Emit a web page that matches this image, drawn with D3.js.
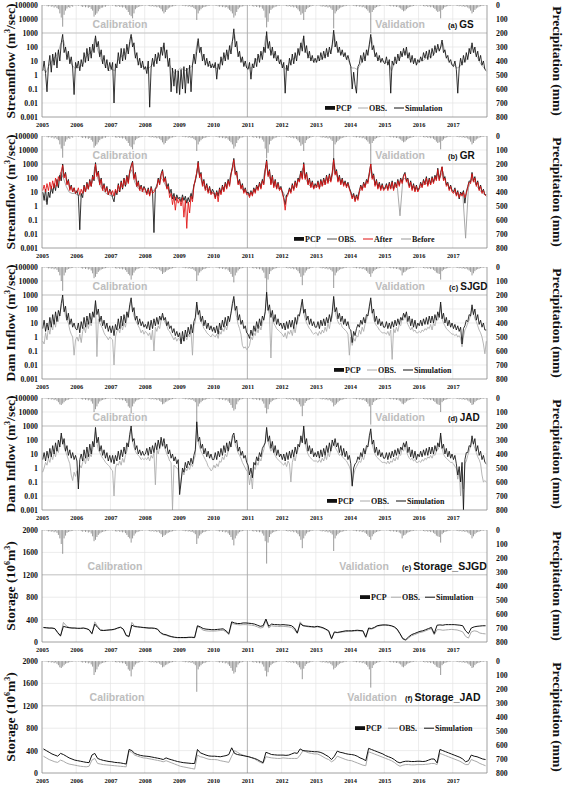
<!DOCTYPE html>
<html>
<head>
<meta charset="utf-8">
<script src="https://cdn.jsdelivr.net/npm/d3@7"></script>
<style>
  body { margin: 0; background: #fff; }
  svg { display: block; }
  .ax text { font-family: "Liberation Serif", "Times New Roman", serif; font-weight: bold; fill: #111; }
  .ax path { display: none; }
</style>
</head>
<body>
<svg id="chart" width="574" height="789"></svg>
<script>
// ---- tick labels ----
const years = d3.range(2005, 2018);
const flowTicks = [0.001, 0.01, 0.1, 1, 10, 100, 1000, 10000, 100000];
const storageTicks = [0, 400, 800, 1200, 1600, 2000];
const pcpTicks = [0, 100, 200, 300, 400, 500, 600, 700, 800];

// ---- precipitation (mm), half-monthly maxima, one row per year 2005..2017 ----
const pcpGS = [
  [3,5,2,8,10,6,12,9,18,10,22,30,60,90,155,70,40,25,15,20,8,12,4,3],
  [4,6,3,9,14,8,16,10,20,14,28,40,83,70,60,45,30,20,18,10,12,6,5,3],
  [3,5,4,10,12,7,14,11,18,12,24,35,50,70,80,95,60,30,20,14,10,8,5,4],
  [4,3,6,8,10,7,12,9,16,11,20,30,45,60,50,35,25,18,12,10,8,6,4,3],
  [3,4,5,7,9,6,12,8,15,12,22,30,107,60,40,30,20,15,12,9,7,5,4,3],
  [4,5,6,9,12,8,15,10,18,14,25,35,45,60,90,75,50,30,18,12,10,8,5,4],
  [3,5,4,8,11,7,14,9,18,12,26,40,90,160,120,60,35,25,18,12,10,7,5,4],
  [3,4,5,8,10,7,13,9,17,11,22,32,45,70,60,107,50,30,20,14,10,7,5,3],
  [4,5,4,9,11,8,14,10,18,12,24,35,167,60,45,35,25,18,14,10,8,6,5,4],
  [3,4,6,8,10,7,12,9,16,11,22,30,40,55,200,50,35,22,15,10,8,6,4,3],
  [3,4,5,7,9,6,11,8,14,10,18,25,35,45,40,30,22,15,12,9,7,5,4,3],
  [4,5,4,8,10,7,13,9,16,11,20,28,40,50,45,95,35,25,15,10,8,6,5,4],
  [3,4,5,7,9,6,11,8,14,10,18,25,40,60,50,35,25,18,12,9,7,5,4,3]
];
const pcpSJGD = [
  [3,5,2,6,10,8,12,9,16,10,20,35,60,100,170,60,40,20,14,10,8,6,4,3],
  [3,4,3,8,12,7,14,9,18,12,25,45,80,70,50,35,25,18,14,10,8,6,4,3],
  [3,4,4,9,11,6,13,10,17,11,22,35,50,60,90,60,40,25,16,12,9,6,5,3],
  [3,3,5,8,10,6,12,8,15,10,20,30,50,40,35,25,20,15,12,9,7,5,4,3],
  [3,4,4,7,9,6,11,8,14,11,20,30,100,60,40,30,20,15,12,8,6,5,4,3],
  [3,4,5,8,11,7,14,9,17,12,24,35,50,70,110,60,40,25,15,10,8,6,4,3],
  [3,4,4,8,10,7,13,9,16,11,25,40,80,240,90,50,30,20,15,10,8,6,4,3],
  [3,4,5,7,10,6,12,8,16,10,20,30,45,70,130,60,40,25,15,12,8,6,4,3],
  [3,4,4,8,10,7,13,9,17,11,22,32,150,60,40,30,20,15,12,9,7,5,4,3],
  [3,4,5,7,9,6,11,8,15,10,20,28,40,50,70,45,30,20,14,10,8,6,4,3],
  [3,4,4,7,9,6,11,8,14,10,18,25,60,40,35,25,18,14,10,8,6,5,4,3],
  [3,4,4,7,10,6,12,8,15,10,20,28,40,45,50,90,30,20,14,10,8,6,4,3],
  [3,4,5,7,9,6,11,8,14,10,18,25,35,60,45,30,20,15,12,8,6,5,4,3]
];
const pcpJAD = [
  [3,4,3,6,9,6,11,8,15,10,20,30,45,50,40,30,20,15,12,8,6,5,4,3],
  [3,4,3,8,11,7,13,9,17,11,24,40,100,80,60,40,25,18,14,10,8,6,4,3],
  [3,4,4,8,10,6,12,9,16,11,22,35,60,70,110,60,40,25,16,12,9,6,5,3],
  [3,3,5,7,10,6,11,8,15,10,20,28,45,40,30,25,18,14,10,8,6,5,4,3],
  [3,4,4,7,9,6,11,8,14,10,20,30,220,60,40,30,20,15,12,8,6,5,4,3],
  [3,4,5,8,11,7,13,9,17,12,24,35,50,70,90,80,45,25,15,10,8,6,4,3],
  [3,4,4,8,10,7,13,9,16,11,24,40,70,110,80,45,30,20,15,10,8,6,4,3],
  [3,4,5,7,10,6,12,8,15,10,20,30,45,60,130,55,35,22,15,11,8,6,4,3],
  [3,4,4,8,10,7,12,9,16,11,22,32,60,50,40,30,20,15,12,9,7,5,4,3],
  [3,4,5,7,9,6,11,8,15,10,20,28,40,60,190,50,30,20,14,10,8,6,4,3],
  [3,4,4,7,9,6,11,8,14,10,18,25,40,45,35,25,18,14,10,8,6,5,4,3],
  [3,4,4,7,10,6,12,8,15,10,20,28,40,45,50,100,30,20,14,10,8,6,4,3],
  [3,4,5,7,9,6,11,8,14,10,18,25,35,50,45,30,20,15,12,8,6,5,4,3]
];

// ---- (a) GS streamflow, log10(m3/s), half-monthly ----
const gsSim = [
  [0.3,1.0,0.1,-1.2,0.6,1.4,0.2,1.5,0.7,1.6,0.5,1.8,1.0,2.3,2.9,1.6,2.0,1.1,1.7,0.8,1.3,0.5,-1.4,0.9],
  [0.5,1.0,0.3,1.1,0.6,1.6,0.9,1.9,1.0,2.0,1.2,2.2,1.6,2.8,2.0,2.4,1.3,1.8,0.8,1.4,0.5,1.1,0.3,0.9],
  [0.4,0.9,-2.0,0.8,0.5,1.6,0.8,1.9,1.0,1.9,1.1,2.2,1.5,2.4,2.9,2.0,2.3,1.2,1.6,0.7,1.2,0.5,1.0,0.4],
  [0.6,0.1,1.0,-2.3,0.5,1.2,0.6,1.5,0.8,1.6,1.0,2.0,1.4,2.3,1.2,1.8,0.6,1.2,-1.2,0.5,-0.8,0.4,-1.3,0.3],
  [-1.4,0.4,-1.0,0.6,-1.3,0.5,-0.6,0.7,-1.2,0.7,1.5,0.8,1.7,2.6,1.6,2.0,1.0,1.5,0.7,1.2,0.6,1.0,0.5,0.8],
  [0.5,0.9,-0.3,0.8,0.4,1.3,0.7,1.6,1.0,1.8,1.1,2.1,1.5,2.4,3.3,2.0,2.4,1.3,1.7,0.9,1.3,0.6,1.0,0.5],
  [0.4,0.9,-0.3,0.8,0.5,1.2,0.6,1.5,0.9,1.7,1.1,2.0,1.6,3.1,1.9,2.4,1.4,2.0,1.2,1.7,1.0,1.4,0.8,1.1],
  [0.5,0.9,-1.3,0.7,0.3,1.2,0.7,1.5,0.8,1.6,1.0,1.9,1.4,2.3,1.7,2.8,1.6,2.1,1.2,1.7,1.0,1.4,0.9,1.2],
  [0.9,1.4,1.0,1.6,1.1,1.7,1.2,1.9,1.3,2.0,1.5,2.2,3.2,2.0,2.4,1.6,2.0,1.4,1.8,1.3,1.6,1.1,1.4,1.0],
  [0.6,-1.0,0.2,-0.7,-1.3,0.6,0.8,1.4,0.9,1.6,1.0,1.8,1.4,2.2,2.9,1.8,2.1,1.3,1.6,1.0,1.4,0.9,1.2,0.9],
  [0.8,1.3,0.7,1.1,-1.3,1.0,0.7,1.3,0.8,1.5,1.0,1.7,1.3,1.9,1.4,2.0,1.2,1.6,0.9,1.4,0.8,1.2,0.7,1.1],
  [0.9,1.3,1.0,1.6,1.2,1.7,1.1,1.8,1.2,1.9,1.4,2.1,1.6,2.2,1.7,2.0,2.5,1.6,1.8,1.2,1.4,0.9,1.1,0.7],
  [0.6,1.0,0.4,-1.3,0.5,1.2,0.7,1.4,0.9,1.6,1.1,1.9,1.5,2.3,1.6,2.0,1.3,1.7,1.0,1.4,0.7,1.0,0.4,0.3]
];
const gsObs = [
  [0.4,0.2,0.7,1.0,1.3,1.5,2.2,2.5,1.7,1.2,0.7,0.5],
  [0.5,0.6,0.8,1.3,1.5,1.7,2.6,1.8,1.2,0.8,0.6,0.3],
  [0.4,0.3,1.0,1.3,1.4,1.6,2.0,2.7,1.5,1.0,0.7,0.6],
  [0.5,0.5,0.7,1.0,1.2,1.5,2.1,1.4,0.8,0.4,0.1,0.3],
  [0.5,0.4,0.3,0.5,0.6,1.2,2.4,1.6,1.2,0.9,0.7,0.6],
  [0.6,0.4,0.9,1.2,1.4,1.7,2.3,2.9,1.7,1.3,0.9,0.6],
  [0.5,0.5,0.9,1.2,1.4,1.6,2.8,1.9,1.6,1.3,1.1,0.8],
  [0.7,0.4,0.8,1.1,1.2,1.4,2.0,2.6,1.7,1.3,1.1,0.9],
  [1.0,1.1,1.2,1.4,1.6,1.8,2.9,1.8,1.6,1.5,1.3,1.0],
  [0.5,0.5,0.4,0.7,1.1,1.4,1.9,2.7,1.6,1.2,1.1,1.0],
  [0.9,0.9,0.3,0.8,1.0,1.2,1.6,1.7,1.2,1.0,1.0,0.8],
  [1.0,1.0,1.2,1.3,1.3,1.5,1.9,1.8,2.3,1.4,1.0,0.8],
  [0.7,0.5,0.6,0.9,1.0,1.4,2.1,1.7,1.3,0.9,0.6,0.4]
];

// ---- (b) GR streamflow, log10(m3/s) ----
const grObs = [
  [1.0,0.4,1.2,0.1,1.0,0.6,1.4,0.9,1.6,1.1,1.9,1.3,2.2,1.8,3.0,2.1,2.4,1.6,1.9,1.2,1.5,1.0,1.3,0.9],
  [1.1,0.7,-1.7,0.9,0.6,1.5,1.0,1.7,1.2,1.9,1.4,2.2,1.8,3.1,2.2,2.5,1.6,2.0,1.2,1.6,1.0,1.4,0.8,1.2],
  [1.0,0.6,0.3,1.1,0.8,1.6,1.0,1.8,1.2,2.0,1.4,2.2,1.7,2.5,2.9,3.2,2.0,2.4,1.4,1.8,1.2,1.5,1.1,1.4],
  [1.2,0.9,1.3,0.8,1.4,1.0,-1.9,1.2,1.4,2.0,1.6,2.3,2.6,1.8,2.1,1.3,1.6,0.9,1.2,0.5,0.9,0.4,0.8,0.5],
  [0.6,0.3,0.8,0.4,0.7,0.2,0.6,0.3,0.9,0.5,1.5,1.8,2.3,3.2,2.1,2.4,1.5,1.9,1.2,1.6,1.0,1.4,0.9,1.2],
  [1.0,0.6,1.1,0.7,1.3,0.9,1.5,1.1,1.7,1.3,1.9,1.5,2.3,2.8,3.4,2.3,2.5,1.6,1.9,1.3,1.6,1.0,1.3,0.9],
  [1.0,0.7,1.1,0.8,1.3,1.0,1.5,1.2,1.7,1.3,1.9,1.6,2.6,3.3,2.2,2.6,1.6,2.2,1.4,1.9,1.3,1.7,1.2,1.4],
  [1.0,0.6,0.1,0.8,0.9,1.3,1.0,1.6,1.2,1.8,1.4,2.0,1.8,2.5,2.0,3.1,2.0,2.4,1.6,2.0,1.4,1.8,1.3,1.6],
  [1.4,1.8,1.3,1.9,1.5,2.0,1.6,2.2,1.7,2.3,1.8,2.4,3.4,2.3,2.6,1.8,2.2,1.6,2.0,1.5,1.8,1.4,1.7,1.3],
  [1.0,0.6,0.9,0.4,0.8,0.5,1.1,1.5,1.2,1.7,1.4,1.9,1.7,2.4,3.0,2.0,2.3,1.5,1.9,1.3,1.7,1.2,1.6,1.2],
  [1.3,1.6,1.2,1.7,1.3,1.8,1.2,1.7,1.4,1.9,1.5,2.0,1.7,2.2,2.4,1.8,2.0,1.4,1.8,1.2,1.6,1.1,1.5,1.1],
  [1.3,1.7,1.4,1.9,1.6,2.1,1.5,2.0,1.6,2.1,1.7,2.2,1.9,2.7,1.9,2.4,2.8,1.9,2.1,1.5,1.7,1.2,1.5,1.1],
  [1.0,1.3,0.8,1.1,0.5,1.0,0.8,1.1,0.2,1.0,1.4,1.8,1.7,2.4,1.8,2.1,1.5,1.8,1.2,1.5,1.0,1.2,0.8,0.8]
];
const grAfter = [
  [1.1,1.5,1.0,1.6,1.1,1.7,1.2,1.8,1.3,2.0,1.4,2.1,1.8,2.5,2.9,2.0,2.3,1.5,1.8,1.1,1.4,1.0,1.3,0.9],
  [1.0,1.3,0.8,1.2,0.9,1.4,1.0,1.6,1.2,1.8,1.4,2.1,1.9,3.0,2.1,2.4,1.5,1.9,1.1,1.5,1.0,1.3,0.8,1.1],
  [0.8,1.1,0.7,1.2,0.9,1.5,1.1,1.7,1.3,1.9,1.5,2.1,1.6,2.4,2.8,3.1,1.9,2.3,1.4,1.7,1.1,1.4,1.0,1.3],
  [1.1,0.8,1.2,0.7,1.3,0.9,1.0,1.2,1.3,1.9,1.5,2.2,2.5,1.7,2.0,1.2,1.4,0.6,0.9,0.1,0.7,-0.3,0.6,0.2],
  [0.5,0.0,0.6,-0.8,0.4,-1.6,0.3,-0.5,0.7,0.3,1.4,1.9,2.4,3.1,2.0,2.3,1.4,1.8,1.1,1.5,0.9,1.3,0.8,1.0],
  [0.9,0.5,1.0,0.3,1.2,0.8,1.4,1.0,1.6,1.2,1.8,1.4,2.2,2.7,3.3,2.2,2.4,1.5,1.8,1.2,1.5,0.9,1.2,0.8],
  [0.9,0.6,1.0,0.7,1.2,0.9,1.4,1.1,1.6,1.2,1.8,1.5,2.5,3.2,2.1,2.5,1.5,2.1,1.3,1.8,1.2,1.6,1.1,1.3],
  [0.9,0.5,-0.3,0.6,0.8,1.2,0.9,1.5,1.1,1.7,1.3,1.9,1.7,2.4,1.9,3.0,1.9,2.3,1.5,1.9,1.3,1.7,1.2,1.5],
  [1.3,1.7,1.2,1.8,1.4,1.9,1.5,2.1,1.6,2.2,1.7,2.3,3.3,2.2,2.5,1.7,2.1,1.5,1.9,1.4,1.7,1.3,1.6,1.2],
  [0.9,0.5,0.8,0.3,0.7,0.4,1.0,1.4,1.1,1.6,1.3,1.8,1.6,2.3,3.0,1.9,2.2,1.4,1.8,1.2,1.6,1.1,1.5,1.1],
  [1.2,1.5,1.1,1.6,1.2,1.7,1.1,1.6,1.3,1.8,1.4,1.9,1.6,2.1,2.3,1.7,1.9,1.3,1.7,1.1,1.5,1.0,1.4,1.0],
  [1.2,1.6,1.3,1.8,1.5,2.0,1.4,1.9,1.5,2.0,1.6,2.1,1.8,2.6,1.8,2.3,2.8,1.8,2.0,1.4,1.6,1.1,1.4,1.0],
  [0.9,1.2,0.7,1.0,0.6,0.9,0.7,1.0,0.6,0.9,1.3,1.7,1.6,2.3,1.7,2.0,1.4,1.7,1.1,1.4,0.9,1.1,0.8,0.7]
];
const grBefore = [
  [0.9,0.3,0.9,1.1,1.4,1.6,2.4,2.0,1.4,1.0,0.9,0.9],
  [0.8,0.7,1.0,1.2,1.4,1.6,2.8,2.0,1.4,1.1,0.9,0.8],
  [0.7,0.8,1.0,1.3,1.5,1.5,2.2,2.6,1.7,1.3,1.1,1.0],
  [1.0,0.9,1.0,1.2,1.6,2.1,1.8,1.4,1.1,0.8,0.6,0.6],
  [0.6,0.5,0.4,0.6,0.9,1.6,2.7,2.0,1.5,1.2,1.0,0.9],
  [0.9,0.8,1.0,1.3,1.5,1.8,2.5,3.0,1.9,1.5,1.1,1.0],
  [0.9,0.9,1.1,1.3,1.5,1.9,2.9,2.1,1.8,1.5,1.3,1.2],
  [1.0,0.6,1.0,1.3,1.3,1.6,2.3,2.7,1.9,1.5,1.4,1.3],
  [1.4,1.4,1.5,1.6,1.8,1.9,3.0,2.1,1.8,1.7,1.6,1.4],
  [0.9,0.7,0.7,1.1,1.3,1.5,2.1,2.6,1.8,1.5,1.4,1.3],
  [1.3,1.3,1.3,1.3,1.5,-0.7,1.9,2.0,1.5,1.4,1.3,1.2],
  [1.3,1.5,1.6,1.6,1.7,1.8,2.3,2.0,2.5,1.7,1.4,1.2],
  [1.0,0.8,0.8,0.9,-2.3,1.3,1.9,1.8,1.4,1.1,0.9,0.8]
];

// ---- (c) SJGD dam inflow, log10(m3/s) ----
const sjSim = [
  [0.6,1.2,0.4,1.0,0.5,1.4,0.7,1.6,0.9,1.8,1.1,1.9,1.5,2.4,3.0,1.8,2.2,1.2,1.7,0.9,1.3,0.7,1.0,0.6],
  [0.5,1.0,0.3,1.1,0.6,1.4,0.7,1.5,0.9,1.7,1.0,1.8,1.4,2.6,1.6,2.0,1.1,1.5,0.8,1.2,0.6,1.0,0.4,0.8],
  [0.3,0.8,0.1,0.9,0.5,1.3,0.6,1.5,0.8,1.6,1.0,1.8,1.4,2.3,2.8,1.8,2.1,1.2,1.5,0.9,1.3,0.8,1.1,0.7],
  [0.9,0.6,1.1,0.5,1.2,0.6,1.3,0.8,1.4,0.9,1.5,1.2,1.7,1.2,1.4,0.8,1.1,0.6,0.8,0.3,0.6,0.1,0.4,0.0],
  [0.3,-0.5,0.4,-0.3,0.5,0.0,0.7,0.2,0.9,0.3,1.1,1.4,2.5,1.6,1.9,1.1,1.5,0.8,1.2,0.6,1.0,0.5,0.8,0.4],
  [0.7,0.3,0.8,0.2,1.0,0.5,1.2,0.7,1.4,0.8,1.5,1.1,1.7,2.4,2.9,1.9,2.2,1.2,1.6,0.9,1.2,0.6,0.8,0.3],
  [0.2,-0.1,0.5,0.1,0.8,0.4,1.1,0.6,1.3,0.8,1.5,1.2,1.8,3.2,1.9,2.3,1.4,1.9,1.1,1.6,0.9,1.3,0.8,1.0],
  [0.6,1.0,0.5,1.1,0.6,1.2,0.7,1.2,0.6,1.4,0.9,1.6,1.5,2.1,2.7,1.7,2.0,1.2,1.5,0.9,1.3,0.8,1.1,0.7],
  [0.7,1.1,0.6,1.2,0.8,1.3,0.8,1.4,1.0,1.6,1.1,1.8,2.9,1.8,2.1,1.3,1.7,1.1,1.5,0.9,1.3,0.8,1.1,0.6],
  [0.5,-0.4,0.4,0.1,0.6,0.9,0.7,1.2,0.9,1.4,1.0,1.6,1.5,2.2,2.8,1.7,2.0,1.1,1.5,0.9,1.3,0.8,1.1,0.7],
  [0.7,1.1,0.6,1.0,0.6,1.1,0.7,1.2,0.8,1.3,0.9,1.4,1.2,1.7,1.4,1.8,1.1,1.5,0.8,1.3,0.7,1.2,0.6,1.0],
  [0.8,1.2,0.8,1.3,0.9,1.4,0.9,1.5,1.0,1.5,1.0,1.6,1.2,1.8,1.4,2.5,1.3,1.7,1.0,1.4,0.8,1.2,0.7,1.0],
  [0.6,0.9,0.5,0.8,0.4,0.7,-0.5,0.6,0.8,1.2,1.1,1.6,1.5,2.3,1.6,2.0,1.2,1.6,0.9,1.2,0.7,1.0,0.5,0.5]
];
const sjObs = [
  [-0.3,-0.5,0.3,-0.2,0.7,0.2,0.9,0.5,1.2,0.7,1.5,1.1,1.7,2.2,2.7,2.0,1.5,1.2,1.0,0.5,0.2,0.0,-1.3,-0.2],
  [0.0,-0.3,0.2,-0.4,0.4,0.7,0.3,1.0,0.6,1.1,0.8,1.4,1.8,2.4,-1.4,1.3,1.0,0.8,0.6,0.3,0.1,0.0,-0.2,0.0],
  [-0.1,-0.2,-2.0,0.0,0.4,0.6,0.3,0.9,0.5,1.0,0.7,1.3,1.7,2.1,2.5,1.9,1.5,1.2,1.0,0.8,0.6,0.3,0.5,0.2],
  [0.4,0.3,0.1,0.3,-0.2,0.5,-1.0,0.7,0.4,0.8,0.6,1.2,1.5,1.2,1.0,0.8,0.5,0.4,0.2,0.0,-0.2,0.0,-0.3,-0.1],
  [-0.2,-0.4,0.0,-0.3,0.1,-0.2,0.2,0.0,0.4,-1.3,0.8,1.1,2.3,1.7,1.3,1.1,0.9,0.6,0.5,0.3,0.2,0.1,0.0,0.2],
  [0.1,0.0,0.2,-0.1,0.4,0.2,0.6,0.4,0.8,0.5,1.0,1.2,1.7,2.2,2.7,1.9,1.4,0.9,0.6,0.2,-0.6,-0.8,-0.7,-0.9],
  [-0.8,-0.6,0.0,-0.2,0.3,0.1,0.6,0.3,0.8,0.5,1.0,1.3,1.8,3.0,2.0,1.6,-1.5,1.4,1.0,0.8,0.6,0.5,0.4,0.3],
  [0.2,0.0,0.3,-0.1,0.4,0.2,0.5,0.1,0.7,0.3,0.9,1.2,1.6,1.9,2.5,1.7,1.3,1.0,0.8,0.6,0.5,0.3,0.2,0.3],
  [0.3,0.1,0.4,0.2,0.5,0.3,0.7,0.4,1.0,0.6,1.2,1.4,2.7,1.8,1.4,1.1,0.9,1.0,0.7,0.6,0.5,0.4,0.2,-1.3],
  [0.0,-0.6,-0.1,-0.3,0.1,0.0,0.5,0.2,0.7,0.4,0.9,1.2,1.6,2.0,2.6,1.8,1.3,1.0,0.8,0.7,0.5,0.4,0.3,0.3],
  [0.3,0.2,0.4,0.1,0.5,-1.6,0.6,0.3,0.7,0.4,0.9,0.8,1.4,1.2,1.6,1.2,0.9,0.7,0.5,0.7,0.4,0.5,0.3,0.3],
  [0.4,0.3,0.5,0.4,0.6,0.5,0.7,0.6,0.9,0.5,1.0,0.8,1.3,1.2,1.5,2.3,1.3,1.0,0.8,0.6,0.5,0.4,0.3,0.2],
  [0.2,0.1,0.2,0.0,0.1,-0.1,-0.7,0.0,0.5,0.7,1.0,1.2,1.6,2.1,1.7,1.3,1.1,0.8,0.5,0.3,0.0,-0.5,-1.2,-0.3]
];

// ---- (d) JAD dam inflow, log10(m3/s) ----
const jaSim = [
  [0.6,1.1,0.5,1.2,0.7,1.4,0.8,1.6,1.0,1.8,1.2,2.0,1.5,2.5,1.7,2.1,1.2,1.6,0.9,1.3,0.7,1.1,0.6,0.9],
  [0.5,-1.5,0.6,1.0,0.5,1.3,0.7,1.5,0.8,1.7,1.0,1.9,1.5,2.9,1.8,2.2,1.2,1.6,0.9,1.3,0.7,1.1,0.5,0.9],
  [0.4,0.9,0.3,0.9,0.5,1.2,0.6,1.3,0.8,1.5,1.0,1.8,1.5,2.4,3.0,1.9,2.1,1.3,1.6,1.0,1.3,0.9,1.2,0.9],
  [1.0,1.4,0.9,1.5,1.0,1.6,1.1,1.8,1.3,2.0,1.4,2.2,1.6,2.1,1.4,1.7,1.0,1.3,0.7,1.0,0.5,0.8,0.3,0.6],
  [-1.9,-1.0,0.0,-0.3,0.4,0.0,0.5,0.2,0.7,0.3,0.9,1.3,3.3,1.9,2.2,1.4,1.7,1.0,1.4,0.8,1.2,0.7,1.0,0.6],
  [0.6,1.1,0.6,1.2,0.8,1.4,0.9,1.6,1.1,1.8,1.2,1.9,1.5,2.3,2.5,1.8,2.0,1.2,1.5,0.9,1.2,0.7,0.9,0.4],
  [0.2,-0.5,0.0,-0.7,0.4,0.2,0.8,0.5,1.1,0.8,1.4,1.6,1.8,2.9,1.9,2.3,1.4,1.9,1.1,1.6,0.9,1.3,0.8,1.0],
  [0.6,1.0,0.5,1.1,0.6,1.2,0.7,1.3,0.8,1.5,1.0,1.7,1.5,2.3,1.8,3.0,1.7,2.1,1.2,1.6,1.0,1.4,0.8,1.1],
  [0.8,1.2,0.7,1.3,0.8,1.4,0.9,1.6,1.1,1.8,1.2,2.0,1.6,2.1,1.5,1.8,1.1,1.6,0.9,1.4,0.8,1.2,0.6,0.9],
  [0.3,-1.3,0.0,0.3,0.4,0.8,0.6,1.1,0.8,1.4,1.0,1.6,1.5,2.3,2.8,1.7,2.0,1.1,1.5,0.9,1.3,0.8,1.1,0.7],
  [0.7,1.1,0.6,1.1,0.7,1.2,0.8,1.3,0.9,1.4,1.0,1.5,1.3,1.8,1.5,1.9,1.1,1.5,0.8,1.3,0.7,1.2,0.6,1.0],
  [0.8,1.2,0.8,1.3,0.9,1.4,0.9,1.5,1.0,1.5,1.0,1.6,1.2,1.8,1.5,2.5,1.4,1.7,1.0,1.4,0.8,1.2,0.7,1.0],
  [0.6,0.9,0.3,-0.5,0.1,-1.0,0.4,-3.0,0.6,1.1,1.1,1.6,1.5,2.3,1.7,2.1,1.2,1.6,0.9,1.2,0.6,0.9,0.4,0.3]
];
const jaObs = [
  [-0.3,0.0,0.4,0.2,0.7,0.4,0.9,0.6,1.1,0.8,1.4,1.1,1.8,2.3,2.0,1.5,1.2,0.9,0.6,0.3,-0.5,-0.9,-0.3,-0.6],
  [-0.2,-1.0,0.2,0.0,0.4,0.7,0.3,0.9,0.5,1.0,0.8,1.3,1.9,2.6,1.8,1.3,1.1,0.9,0.7,0.6,0.4,0.3,0.2,0.1],
  [-0.1,-0.2,-2.0,0.0,0.3,0.2,0.5,0.2,0.7,0.4,0.9,1.2,1.7,2.1,2.8,1.9,1.5,1.2,1.0,0.9,0.8,0.6,0.7,0.6],
  [0.7,0.6,0.8,0.5,0.9,0.7,1.1,-1.2,1.3,1.0,1.5,1.9,1.5,1.7,1.3,1.0,0.8,0.5,0.4,-3.0,0.2,0.1,0.0,-0.1],
  [-1.5,-0.8,-0.2,-0.5,0.0,-0.2,0.1,-0.1,0.3,0.1,0.6,0.9,3.1,1.9,1.5,1.2,1.0,0.8,0.6,0.4,0.1,0.0,-0.2,-0.1],
  [0.2,0.0,0.3,0.1,0.5,0.4,0.8,0.6,1.0,0.8,1.2,1.4,1.8,2.1,2.3,1.7,1.4,1.1,0.9,0.7,0.4,0.2,0.0,-0.2],
  [-0.3,-1.2,-0.5,-1.5,0.1,-0.1,0.4,0.2,0.7,0.5,1.0,1.3,1.9,2.7,1.9,1.5,1.2,1.4,1.1,0.9,0.7,0.6,0.5,0.4],
  [0.3,0.2,0.4,0.1,0.5,0.3,-1.0,0.4,0.8,0.5,1.0,1.3,1.6,2.0,1.9,2.8,1.8,1.3,1.0,0.8,0.7,0.6,0.5,0.5],
  [0.5,0.4,0.6,0.4,0.7,0.5,0.9,0.6,1.1,0.8,1.3,1.5,1.8,1.5,1.3,1.1,0.9,1.0,0.8,0.7,0.6,0.5,0.3,0.1],
  [-0.2,-1.2,-0.5,-0.1,0.1,0.3,0.5,0.4,0.8,0.6,1.0,1.3,1.6,2.0,2.6,1.7,1.3,1.0,0.8,0.7,0.6,0.5,0.4,0.4],
  [0.4,0.3,0.5,0.3,0.5,0.4,0.7,0.5,0.8,0.6,1.0,0.9,1.4,1.2,1.6,1.2,0.9,0.7,0.6,0.7,0.5,0.6,0.4,0.4],
  [0.5,0.4,0.6,0.5,0.7,0.6,0.8,0.7,0.9,0.7,1.0,0.9,1.2,1.3,1.5,2.3,1.4,1.0,0.8,0.7,0.6,0.5,0.4,0.4],
  [0.3,0.1,0.0,-0.8,-0.2,-2.0,0.1,-1.5,0.3,0.5,0.9,1.2,1.6,2.0,1.7,1.4,1.1,0.8,0.6,0.3,-0.5,-1.0,-0.9,-1.0]
];

// ---- (e)(f) storage, 10^6 m3, monthly ----
const sjStorSim = [
  [260,255,250,250,240,170,110,280,265,255,250,250],
  [245,245,250,240,220,150,320,260,210,205,210,215],
  [220,230,250,265,230,120,100,300,275,270,265,260],
  [255,250,250,245,230,170,140,130,110,95,85,80],
  [80,80,80,85,85,80,290,270,240,230,225,220],
  [220,225,230,235,200,150,360,340,330,330,340,340],
  [335,330,320,300,280,290,410,280,320,310,310,305],
  [310,305,300,290,250,160,330,290,285,280,275,270],
  [280,270,255,230,200,60,180,170,180,190,200,200],
  [200,205,210,205,200,90,250,240,260,290,300,305],
  [305,300,290,270,230,150,60,40,90,130,150,170],
  [190,200,220,240,260,150,300,305,300,310,310,310],
  [310,305,300,290,200,150,250,270,280,285,290,290]
];
const sjStorObs = [
  [255,250,245,245,235,160,100,350,290,260,250,245],
  [240,240,245,235,215,140,360,280,220,210,210,215],
  [215,225,245,260,225,110,90,350,285,275,265,255],
  [250,245,245,240,225,160,130,120,100,90,80,75],
  [75,75,75,80,80,75,280,250,210,200,195,195],
  [195,200,205,210,180,130,330,320,310,305,310,310],
  [305,300,290,270,250,260,380,250,290,280,280,275],
  [280,275,270,260,220,150,360,300,280,270,265,260],
  [270,260,245,220,190,50,170,165,170,180,185,190],
  [190,195,200,195,190,70,230,230,250,280,290,300],
  [300,295,285,265,220,140,50,30,70,110,130,150],
  [170,180,200,220,240,130,220,220,210,215,220,225],
  [220,215,200,180,100,70,180,200,190,160,150,145]
];
const jaStorSim = [
  [430,400,370,340,320,300,350,330,300,270,250,230],
  [220,210,200,190,185,320,350,260,240,225,215,205],
  [200,190,185,180,170,160,420,400,350,330,315,305],
  [300,295,285,275,265,255,240,270,250,235,220,205],
  [195,185,180,175,170,170,420,360,340,320,305,300],
  [300,295,290,300,310,330,450,350,330,320,310,300],
  [290,275,260,240,210,185,370,350,330,325,320,320],
  [320,315,320,340,360,350,430,400,395,390,385,380],
  [380,370,350,320,290,240,300,390,370,360,345,335],
  [330,320,300,270,250,220,440,420,400,380,360,340],
  [310,290,270,240,200,180,200,210,210,205,205,210],
  [210,205,210,230,250,250,180,420,400,380,360,340],
  [320,300,280,250,200,220,320,300,290,270,250,240]
];
const jaStorObs = [
  [300,270,240,220,200,190,230,210,180,160,150,140],
  [130,120,115,110,120,230,260,170,160,150,145,140],
  [135,130,125,120,115,110,390,370,320,300,285,270],
  [265,255,245,235,225,215,200,220,200,180,160,140],
  [120,110,100,90,80,70,320,290,280,260,245,240],
  [240,235,220,210,200,190,300,400,370,340,320,300],
  [290,270,250,220,190,170,290,280,270,265,260,260],
  [270,265,260,260,260,260,320,400,380,360,350,340],
  [340,320,290,260,240,200,230,300,280,260,240,225],
  [220,200,180,160,140,130,380,360,340,320,300,280],
  [260,240,220,190,150,120,140,150,150,145,145,150],
  [150,150,155,160,170,170,150,350,330,310,290,270],
  [250,230,210,180,150,150,240,220,200,170,150,130]
];

// ---------------------------------------------------------------
const svg = d3.select('#chart');
const X0 = 42, X1 = 487, PH = 112;
const serif = '"Liberation Serif","Times New Roman",serif';
const sans = '"Liberation Sans",Arial,sans-serif';
const x = d3.scaleLinear().domain([2005, 2018]).range([X0, X1]);
const defs = svg.append('defs');

const flowLegend = (x0) => [
  {label: 'PCP', kind: 'bar', x: x0},
  {label: 'OBS.', color: '#aaa', x: x0 + 33},
  {label: 'Simulation', color: '#111', x: x0 + 69}
];

const panels = [
  {top: 5, log: true, title: ['Streamflow (m', '3', '/sec)'], tag: '(a)', name: 'GS', tagX: 448,
   pcp: pcpGS, calX: 120, valX: 400,
   series: [{data: gsObs, color: '#aaa'}, {data: gsSim, color: '#111'}],
   legend: flowLegend(325)},
  {top: 136, log: true, title: ['Streamflow (m', '3', '/sec)'], tag: '(b)', name: 'GR', tagX: 448,
   pcp: pcpGS, calX: 120, valX: 400,
   series: [{data: grBefore, color: '#999'}, {data: grObs, color: '#111'}, {data: grAfter, color: '#e01010'}],
   legend: [{label: 'PCP', kind: 'bar', x: 294}, {label: 'OBS.', color: '#555', x: 327},
            {label: 'After', color: '#e01010', x: 363}, {label: 'Before', color: '#999', x: 401}]},
  {top: 267, log: true, title: ['Dam Inflow (m', '3', '/sec)'], tag: '(c)', name: 'SJGD', tagX: 449,
   pcp: pcpSJGD, calX: 120, valX: 400,
   series: [{data: sjObs, color: '#aaa'}, {data: sjSim, color: '#111'}],
   legend: flowLegend(334)},
  {top: 398, log: true, title: ['Dam Inflow (m', '3', '/sec)'], tag: '(d)', name: 'JAD', tagX: 448,
   pcp: pcpJAD, calX: 120, valX: 400,
   series: [{data: jaObs, color: '#aaa'}, {data: jaSim, color: '#111'}],
   legend: flowLegend(327)},
  {top: 530, log: false, title: ['Storage (10', '6', 'm', '3', ')'], tag: '(e)', name: 'Storage_SJGD', tagX: 402,
   pcp: pcpSJGD, calX: 115, valX: 364,
   series: [{data: sjStorObs, color: '#aaa'}, {data: sjStorSim, color: '#111'}],
   legend: [{label: 'PCP', kind: 'bar', x: 360}, {label: 'OBS.', color: '#aaa', x: 391},
            {label: 'Simulation', color: '#111', x: 425}]},
  {top: 661, log: false, title: ['Storage (10', '6', 'm', '3', ')'], tag: '(f)', name: 'Storage_JAD', tagX: 405,
   pcp: pcpJAD, calX: 117, valX: 372,
   series: [{data: jaStorObs, color: '#aaa'}, {data: jaStorSim, color: '#111'}],
   legend: [{label: 'PCP', kind: 'bar', x: 355}, {label: 'OBS.', color: '#aaa', x: 388},
            {label: 'Simulation', color: '#111', x: 424}]}
];

panels.forEach((p, k) => drawPanel(p, k));

function drawPanel(p, k) {
  const top = p.top, bot = p.top + PH;
  const y = p.log
    ? d3.scaleLog().domain([0.001, 100000]).range([bot, top])
    : d3.scaleLinear().domain([0, 2000]).range([bot, top]);
  const yp = d3.scaleLinear().domain([0, 800]).range([top, bot]);
  const ticks = p.log ? flowTicks : storageTicks;
  const g = svg.append('g');

  // grid
  g.append('g').selectAll('line').data(ticks.slice(1, -1)).join('line')
    .attr('x1', X0).attr('x2', X1).attr('y1', d => y(d)).attr('y2', d => y(d))
    .attr('stroke', '#e4e4e4').attr('stroke-width', 0.7);
  g.append('g').selectAll('line').data(years.slice(1)).join('line')
    .attr('x1', d => x(d)).attr('x2', d => x(d)).attr('y1', top).attr('y2', bot)
    .attr('stroke', '#e4e4e4').attr('stroke-width', 0.7);

  // calibration / validation split
  const splitV = p.log ? 1000 : 1200;
  g.append('line').attr('x1', X0).attr('x2', X1).attr('y1', y(splitV)).attr('y2', y(splitV))
    .attr('stroke', '#c4c4c4').attr('stroke-width', 0.9);
  g.append('line').attr('x1', x(2011)).attr('x2', x(2011)).attr('y1', top).attr('y2', bot)
    .attr('stroke', '#a8a8a8').attr('stroke-width', 0.8);

  defs.append('clipPath').attr('id', 'clip' + k)
    .append('rect').attr('x', X0).attr('y', top).attr('width', X1 - X0).attr('height', PH);
  const plot = g.append('g').attr('clip-path', `url(#clip${k})`);

  // precipitation bars hanging from the top
  const pcp = p.pcp.flat();
  plot.append('g').selectAll('line').data(pcp).join('line')
    .attr('x1', (d, i) => x(2005 + (i + 0.5) / 24)).attr('x2', (d, i) => x(2005 + (i + 0.5) / 24))
    .attr('y1', top).attr('y2', d => yp(d))
    .attr('stroke', '#555').attr('stroke-width', 0.6);

  // series
  p.series.forEach(s => {
    const vals = s.data.flat();
    const n = s.data[0].length;
    const line = d3.line()
      .x((d, i) => x(2005 + (i + 0.5) / n))
      .y(d => y(p.log ? Math.pow(10, d) : d));
    plot.append('path').datum(vals).attr('d', line)
      .attr('fill', 'none').attr('stroke', s.color)
      .attr('stroke-width', p.log ? 0.85 : 1).attr('stroke-linejoin', 'round');
  });

  // frame
  g.append('path')
    .attr('d', `M${X0},${top}V${bot}H${X1}V${top}`)
    .attr('fill', 'none').attr('stroke', '#888').attr('stroke-width', 0.8);

  // axes
  const la = g.append('g').attr('class', 'ax').attr('transform', `translate(${X0},0)`)
    .call(d3.axisLeft(y).tickValues(ticks).tickFormat(d => String(d)).tickSize(0).tickPadding(4));
  la.selectAll('text').attr('font-size', 7.8);
  const ra = g.append('g').attr('class', 'ax').attr('transform', `translate(${X1},0)`)
    .call(d3.axisRight(yp).tickValues(pcpTicks).tickSize(0).tickPadding(9));
  ra.selectAll('text').attr('font-size', 7.8);
  const ba = g.append('g').attr('class', 'ax').attr('transform', `translate(0,${bot})`)
    .call(d3.axisBottom(x).tickValues(years).tickFormat(d3.format('d')).tickSize(0).tickPadding(5));
  ba.selectAll('text').attr('font-size', 6.4);

  // left title (with superscripts)
  const cy = top + PH / 2;
  const lt = g.append('text').attr('transform', `translate(15,${cy}) rotate(-90)`)
    .attr('text-anchor', 'middle').attr('font-family', serif).attr('font-weight', 'bold')
    .attr('font-size', 13.5).attr('fill', '#111');
  p.title.forEach((t, i) => {
    const sup = i % 2 === 1;
    lt.append('tspan').text(t)
      .attr('font-size', sup ? 8 : 13.5)
      .attr('dy', sup ? -5 : (i > 0 ? 5 : 0));
  });
  g.append('text').attr('transform', `translate(553,${cy}) rotate(90)`)
    .attr('text-anchor', 'middle').attr('font-family', serif).attr('font-weight', 'bold')
    .attr('font-size', 13.5).attr('fill', '#111').text('Precipitation (mm)');

  // calibration / validation labels and panel tag
  const ty = y(splitV) - 5;
  g.append('text').attr('x', p.calX).attr('y', ty).attr('text-anchor', 'middle')
    .attr('font-family', sans).attr('font-weight', 'bold').attr('font-size', 10.5)
    .attr('fill', '#bdbdbd').text('Calibration');
  g.append('text').attr('x', p.valX).attr('y', ty).attr('text-anchor', 'middle')
    .attr('font-family', sans).attr('font-weight', 'bold').attr('font-size', 10.5)
    .attr('fill', '#bdbdbd').text('Validation');
  const tg = g.append('text').attr('x', p.tagX).attr('y', ty)
    .attr('font-family', sans).attr('font-weight', 'bold').attr('fill', '#111');
  tg.append('tspan').attr('font-size', 7.5).text(p.tag + ' ');
  tg.append('tspan').attr('font-size', p.log ? 10 : 10.5).text(p.name);

  // legend
  const ly = p.log ? bot - 9 : y(800);
  const lg = g.append('g');
  p.legend.forEach(it => {
    if (it.kind === 'bar') {
      lg.append('rect').attr('x', it.x).attr('y', ly - 2).attr('width', 10).attr('height', 3.8).attr('fill', '#111');
    } else {
      lg.append('line').attr('x1', it.x).attr('x2', it.x + 10).attr('y1', ly).attr('y2', ly)
        .attr('stroke', it.color).attr('stroke-width', 1);
    }
    lg.append('text').attr('x', it.x + 11).attr('y', ly + 2.8)
      .attr('font-family', serif).attr('font-weight', 'bold').attr('font-size', 8)
      .attr('fill', '#111').text(it.label);
  });
}
</script>
</body>
</html>
